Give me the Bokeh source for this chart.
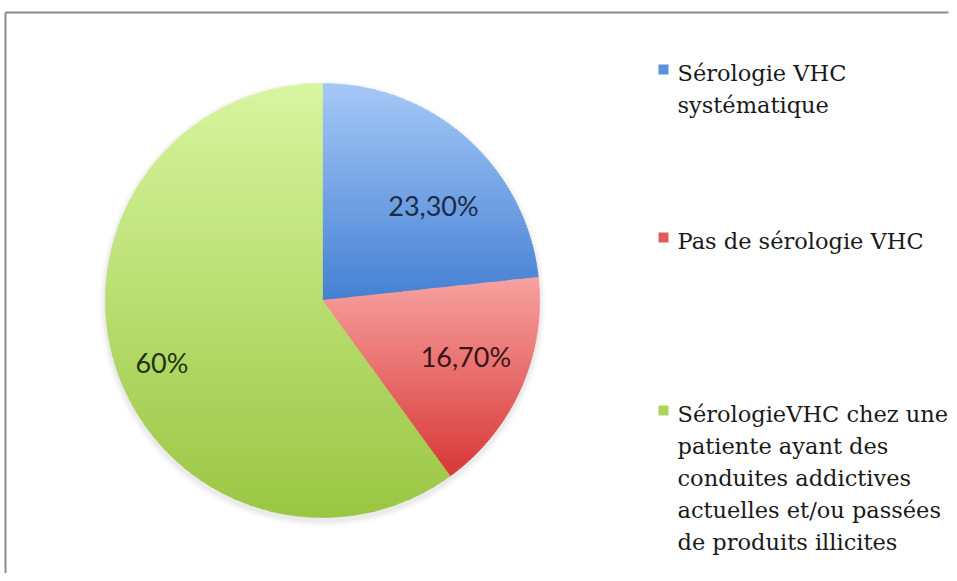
import numpy as np
from bokeh.plotting import figure
from bokeh.models import Range1d
from bokeh.core.properties import value
from bokeh.embed import file_html
from bokeh.resources import INLINE

# ---- data ----
categories = ["Sérologie VHC systématique",
              "Pas de sérologie VHC",
              "SérologieVHC chez une patiente ayant des conduites addictives actuelles et/ou passées de produits illicites"]
legend_lines = [["Sérologie VHC", "systématique"],
                ["Pas de sérologie VHC"],
                ["SérologieVHC chez une", "patiente ayant des", "conduites addictives",
                 "actuelles et/ou passées", "de produits illicites"]]
shares = [23.3, 16.7, 60.0]
labels = ["23,30%", "16,70%", "60%"]

# ---- style ----
top_colors = ["#a6c9f7", "#f7a3a0", "#d8f5a0"]
bot_colors = ["#4580d3", "#d93838", "#9bc643"]
mid_colors = ["#5a90dc", "#e45a58", "#aed35a"]
label_colors = ["#1c2a48", "#3a1414", "#1f3312"]
label_r = [146, 154, 172]
label_dang = [-7.5, 2.5, 3.0]

W, H = 949, 573
p = figure(width=W, height=H, output_backend="svg", toolbar_location=None,
           x_range=Range1d(0, W), y_range=Range1d(0, H), min_border=0)
p.axis.visible = False
p.grid.visible = False
p.outline_line_color = None
p.background_fill_color = "white"
p.border_fill_color = "white"

cx, cy, R = 322.0, 273.0, 217.0

# frame border (left and top)
p.segment(x0=[5, 5], y0=[561, 561], x1=[5, W - 1], y1=[0, 561],
          line_color="#8c8c8c", line_width=2)

# soft shadow
for k, a in zip([6, 4, 2], [0.04, 0.05, 0.06]):
    p.circle(x=[cx], y=[cy - 3], radius=R + k, fill_color="#7a7a7a",
             fill_alpha=a, line_color=None)

def hex2rgb(h):
    h = h.lstrip("#")
    return np.array([int(h[i:i + 2], 16) for i in (0, 2, 4)], dtype=float)

def rgb2hex(c):
    c = np.clip(np.round(c), 0, 255).astype(int)
    return "#%02x%02x%02x" % tuple(c)

def clip_half(pts, yv, keep_above):
    out = []
    n = len(pts)
    for i in range(n):
        P = pts[i]
        Q = pts[(i + 1) % n]
        inP = P[1] >= yv if keep_above else P[1] <= yv
        inQ = Q[1] >= yv if keep_above else Q[1] <= yv
        if inP:
            out.append(P)
        if inP != inQ:
            t = (yv - P[1]) / (Q[1] - P[1])
            out.append((P[0] + t * (Q[0] - P[0]), yv))
    return out

fracs = np.array(shares) / sum(shares)
cum = np.concatenate([[0], np.cumsum(fracs)])
xs_all, ys_all, col_all = [], [], []
mid_angles = []
for i in range(len(shares)):
    a_start = np.pi / 2 - 2 * np.pi * cum[i]
    a_end = np.pi / 2 - 2 * np.pi * cum[i + 1]
    mid_angles.append((a_start + a_end) / 2)
    arc = np.linspace(a_end, a_start, 200)
    poly = [(cx, cy)] + [(cx + R * np.cos(a), cy + R * np.sin(a)) for a in arc]
    ymin = min(q[1] for q in poly)
    ymax = max(q[1] for q in poly)
    nb = 70
    edges = np.linspace(ymax, ymin, nb + 1)
    ct, cb = hex2rgb(top_colors[i]), hex2rgb(bot_colors[i])
    for b in range(nb):
        y1, y0 = edges[b] + 0.4, edges[b + 1] - 0.4
        sub = clip_half(poly, y0, True)
        sub = clip_half(sub, y1, False) if sub else []
        if len(sub) < 3:
            continue
        t = (b + 0.5) / nb
        xs_all.append([q[0] for q in sub])
        ys_all.append([q[1] for q in sub])
        col_all.append(rgb2hex(ct + (cb - ct) * t))

p.patches(xs=xs_all, ys=ys_all, fill_color=col_all, line_color=col_all, line_width=0.6)

# data labels
for i, lab in enumerate(labels):
    a = mid_angles[i] + np.deg2rad(label_dang[i])
    p.text(x=[cx + label_r[i] * np.cos(a)], y=[cy + label_r[i] * np.sin(a)], text=[lab],
           text_font=value("Lato"), text_font_size="27px", text_color=label_colors[i],
           text_align="center", text_baseline="middle")

# legend
leg_first_y = [501, 333, 160]
line_step = 32
for i, lines in enumerate(legend_lines):
    p.scatter(x=[663], y=[leg_first_y[i] + 3], marker="square", size=10,
              fill_color=mid_colors[i], line_color=None)
    p.text(x=[677] * len(lines), y=[leg_first_y[i] - k * line_step for k in range(len(lines))],
           text=lines, text_font=value("DejaVu Serif"), text_font_size="22.5px",
           text_color="#1a1a1a", text_align="left", text_baseline="middle")

open("out.html", "w").write(file_html(p, INLINE))
